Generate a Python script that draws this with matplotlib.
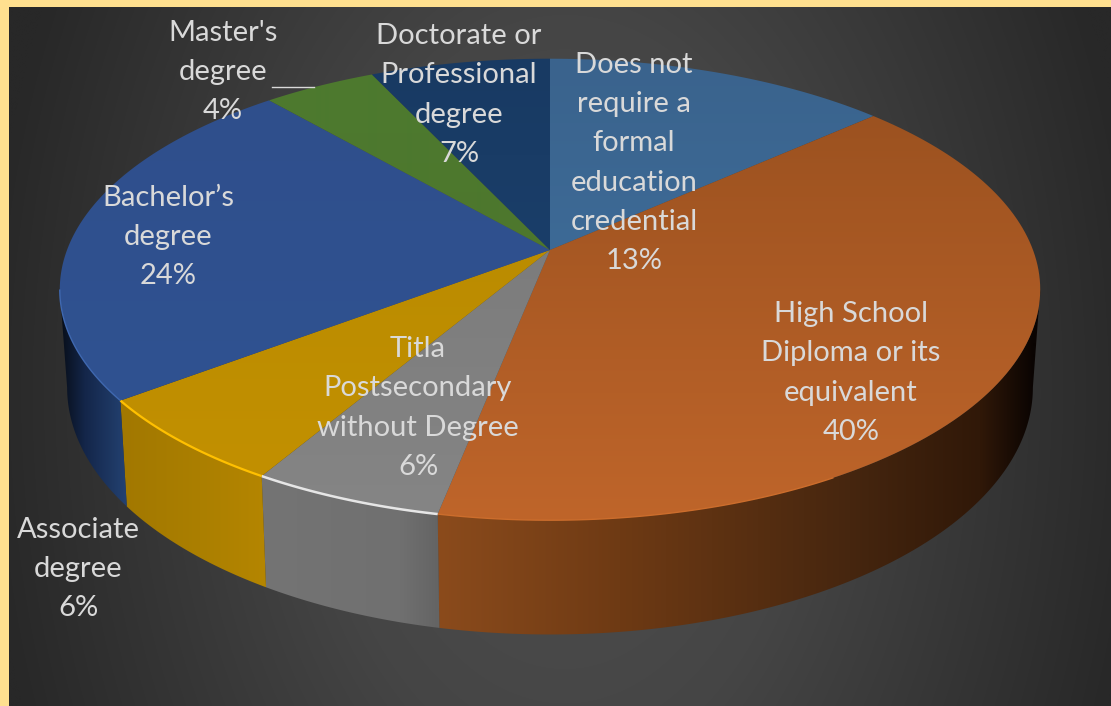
import numpy as np
import matplotlib
matplotlib.use("Agg")
import matplotlib.pyplot as plt
from matplotlib.colors import to_rgb
from matplotlib.patches import Polygon

# Share of jobs by education level, clockwise from 12 o'clock.
categories = [
    "Does not\nrequire a\nformal\neducation\ncredential",
    "High School\nDiploma or its\nequivalent",
    "Titla\nPostsecondary\nwithout Degree",
    "Associate\ndegree",
    "Bachelor\u2019s\ndegree",
    "Master's\ndegree",
    "Doctorate or\nProfessional\ndegree",
]
# Slice sizes as measured on the picture, and the rounded labels printed on it.
shares = [13.4, 39.7, 5.4, 6.2, 23.9, 4.4, 7.0]
percent_labels = ["13%", "40%", "6%", "6%", "24%", "4%", "7%"]

# Drawing styles, one entry per slice.
label_pos = [(634, 163), (851, 373), (418, 408), (78, 569), (168, 237), (223, 72), (459, 95)]
top_colors = [
    ("#3a638d", "#3d6a96"), ("#9c5220", "#bf652a"), ("#7c7c7c", "#858585"), ("#bb8c00", "#c29000"),
    ("#2f4f8c", "#305291"), ("#4d7a2f", "#4d772d"), ("#183a63", "#1a3e69"),
]
side_stops = [
    None,
    [(438, "#8b4b1c"), (620, "#6e3a14"), (850, "#46260f"), (980, "#301808"), (1033, "#0a0402")],
    [(262, "#747474"), (400, "#707070"), (438, "#646464")],
    [(122, "#a27800"), (200, "#ab7f00"), (268, "#b58600")],
    [(60, "#070d18"), (85, "#14264a"), (128, "#244373")],
    None,
    None,
]
rim_colors = [None, "#cc6d2c", "#e6e6e6", "#ffc000", "#3f68b0", None, None]
rim_widths = [0, 1.0, 1.8, 1.6, 1.0, 0, 0]
text_color = "#d9d9d9"
frame_color = "#ffe08f"

W, H = 1111, 706
CX, CY = 550, 250
K, RX, RY = 0.171, 483, 224
# The wall is only visible between the two side extremes of the top ellipse.
ANGLE_R = np.degrees(np.arccos(-K))
ANGLE_L = 360 - ANGLE_R


def top_rim(deg):
    t = np.radians(deg)
    u, v = np.sin(t), np.cos(t)
    den = 1 + K * v
    return CX + RX * u / den, CY - RY * v / den


def bottom_rim(deg):
    x, y = top_rim(deg)
    return CX + (x - CX) * 0.985, 508 + 1.07 * (y - 402)


def gradient_fill(ax, xy, stops=None, colors=None, zorder=2):
    # Paint a gradient and clip it to the polygon.
    poly = Polygon(xy, closed=True, transform=ax.transData, fc="none", ec="none")
    ax.add_patch(poly)
    if stops is not None:
        pos = [s[0] for s in stops]
        rgb = np.array([to_rgb(s[1]) for s in stops])
        xs = np.arange(W)
        img = np.stack([np.interp(xs, pos, rgb[:, i]) for i in range(3)], axis=-1)[None, :, :]
    else:
        c0, c1 = np.array(to_rgb(colors[0])), np.array(to_rgb(colors[1]))
        f = np.linspace(0, 1, H)[:, None]
        f = np.clip((f * H - xy[:, 1].min()) / max(np.ptp(xy[:, 1]), 1), 0, 1)
        img = (c0 + (c1 - c0) * f)[:, None, :]
    im = ax.imshow(img, extent=(0, W, H, 0), aspect="auto", zorder=zorder, interpolation="bilinear")
    im.set_clip_path(poly)


fig = plt.figure(figsize=(W / 100, H / 100), dpi=100)
fig.patch.set_facecolor(frame_color)
ax = fig.add_axes([0, 0, 1, 1])
ax.set_axis_off()

# Dark radial background inside the yellow frame.
yy, xx = np.mgrid[0:H, 0:W]
d = np.hypot((xx - 560) / 555, (yy - 390) / 850)
grey = np.interp(d, [0, 0.45, 1.05], [0x50, 0x45, 0x28]) / 255
ax.imshow(np.dstack([grey] * 3), extent=(9, W, H, 7), aspect="auto", zorder=0)

edges = np.concatenate([[0], np.cumsum(shares)]) * 360 / sum(shares)

# Outer walls first, only the slices facing the viewer have one.
for i in range(len(shares)):
    if side_stops[i] is None:
        continue
    a = np.linspace(max(edges[i], ANGLE_R), min(edges[i + 1], ANGLE_L), 120)
    tx, ty = top_rim(a)
    bx, by = bottom_rim(a)
    xy = np.column_stack([np.r_[tx, bx[::-1]], np.r_[ty, by[::-1]]])
    gradient_fill(ax, xy, stops=side_stops[i], zorder=2)

for i in range(len(shares)):
    a = np.linspace(edges[i], edges[i + 1], 120)
    tx, ty = top_rim(a)
    xy = np.column_stack([np.r_[CX, tx], np.r_[CY, ty]])
    gradient_fill(ax, xy, colors=top_colors[i], zorder=3)

# Bevel highlight on the front edge.
for i in range(len(shares)):
    if rim_colors[i] is None:
        continue
    a = np.linspace(max(edges[i], 150), min(edges[i + 1], ANGLE_L), 120)
    tx, ty = top_rim(a)
    ax.plot(tx, ty, color=rim_colors[i], lw=rim_widths[i], zorder=4, solid_capstyle="butt")

for name, pct, (x, y) in zip(categories, percent_labels, label_pos):
    ax.text(x, y, f"{name}\n{pct}", ha="center", va="center", ma="center", color=text_color,
            family=["Lato", "DejaVu Sans"], fontsize=21, linespacing=1.62, zorder=6)

# Leader line next to the Master's label.
ax.plot([272, 314], [87, 87], color=text_color, lw=1, zorder=6)

ax.set_xlim(0, W)
ax.set_ylim(H, 0)
fig.savefig("out.png", dpi=100, facecolor=frame_color)
